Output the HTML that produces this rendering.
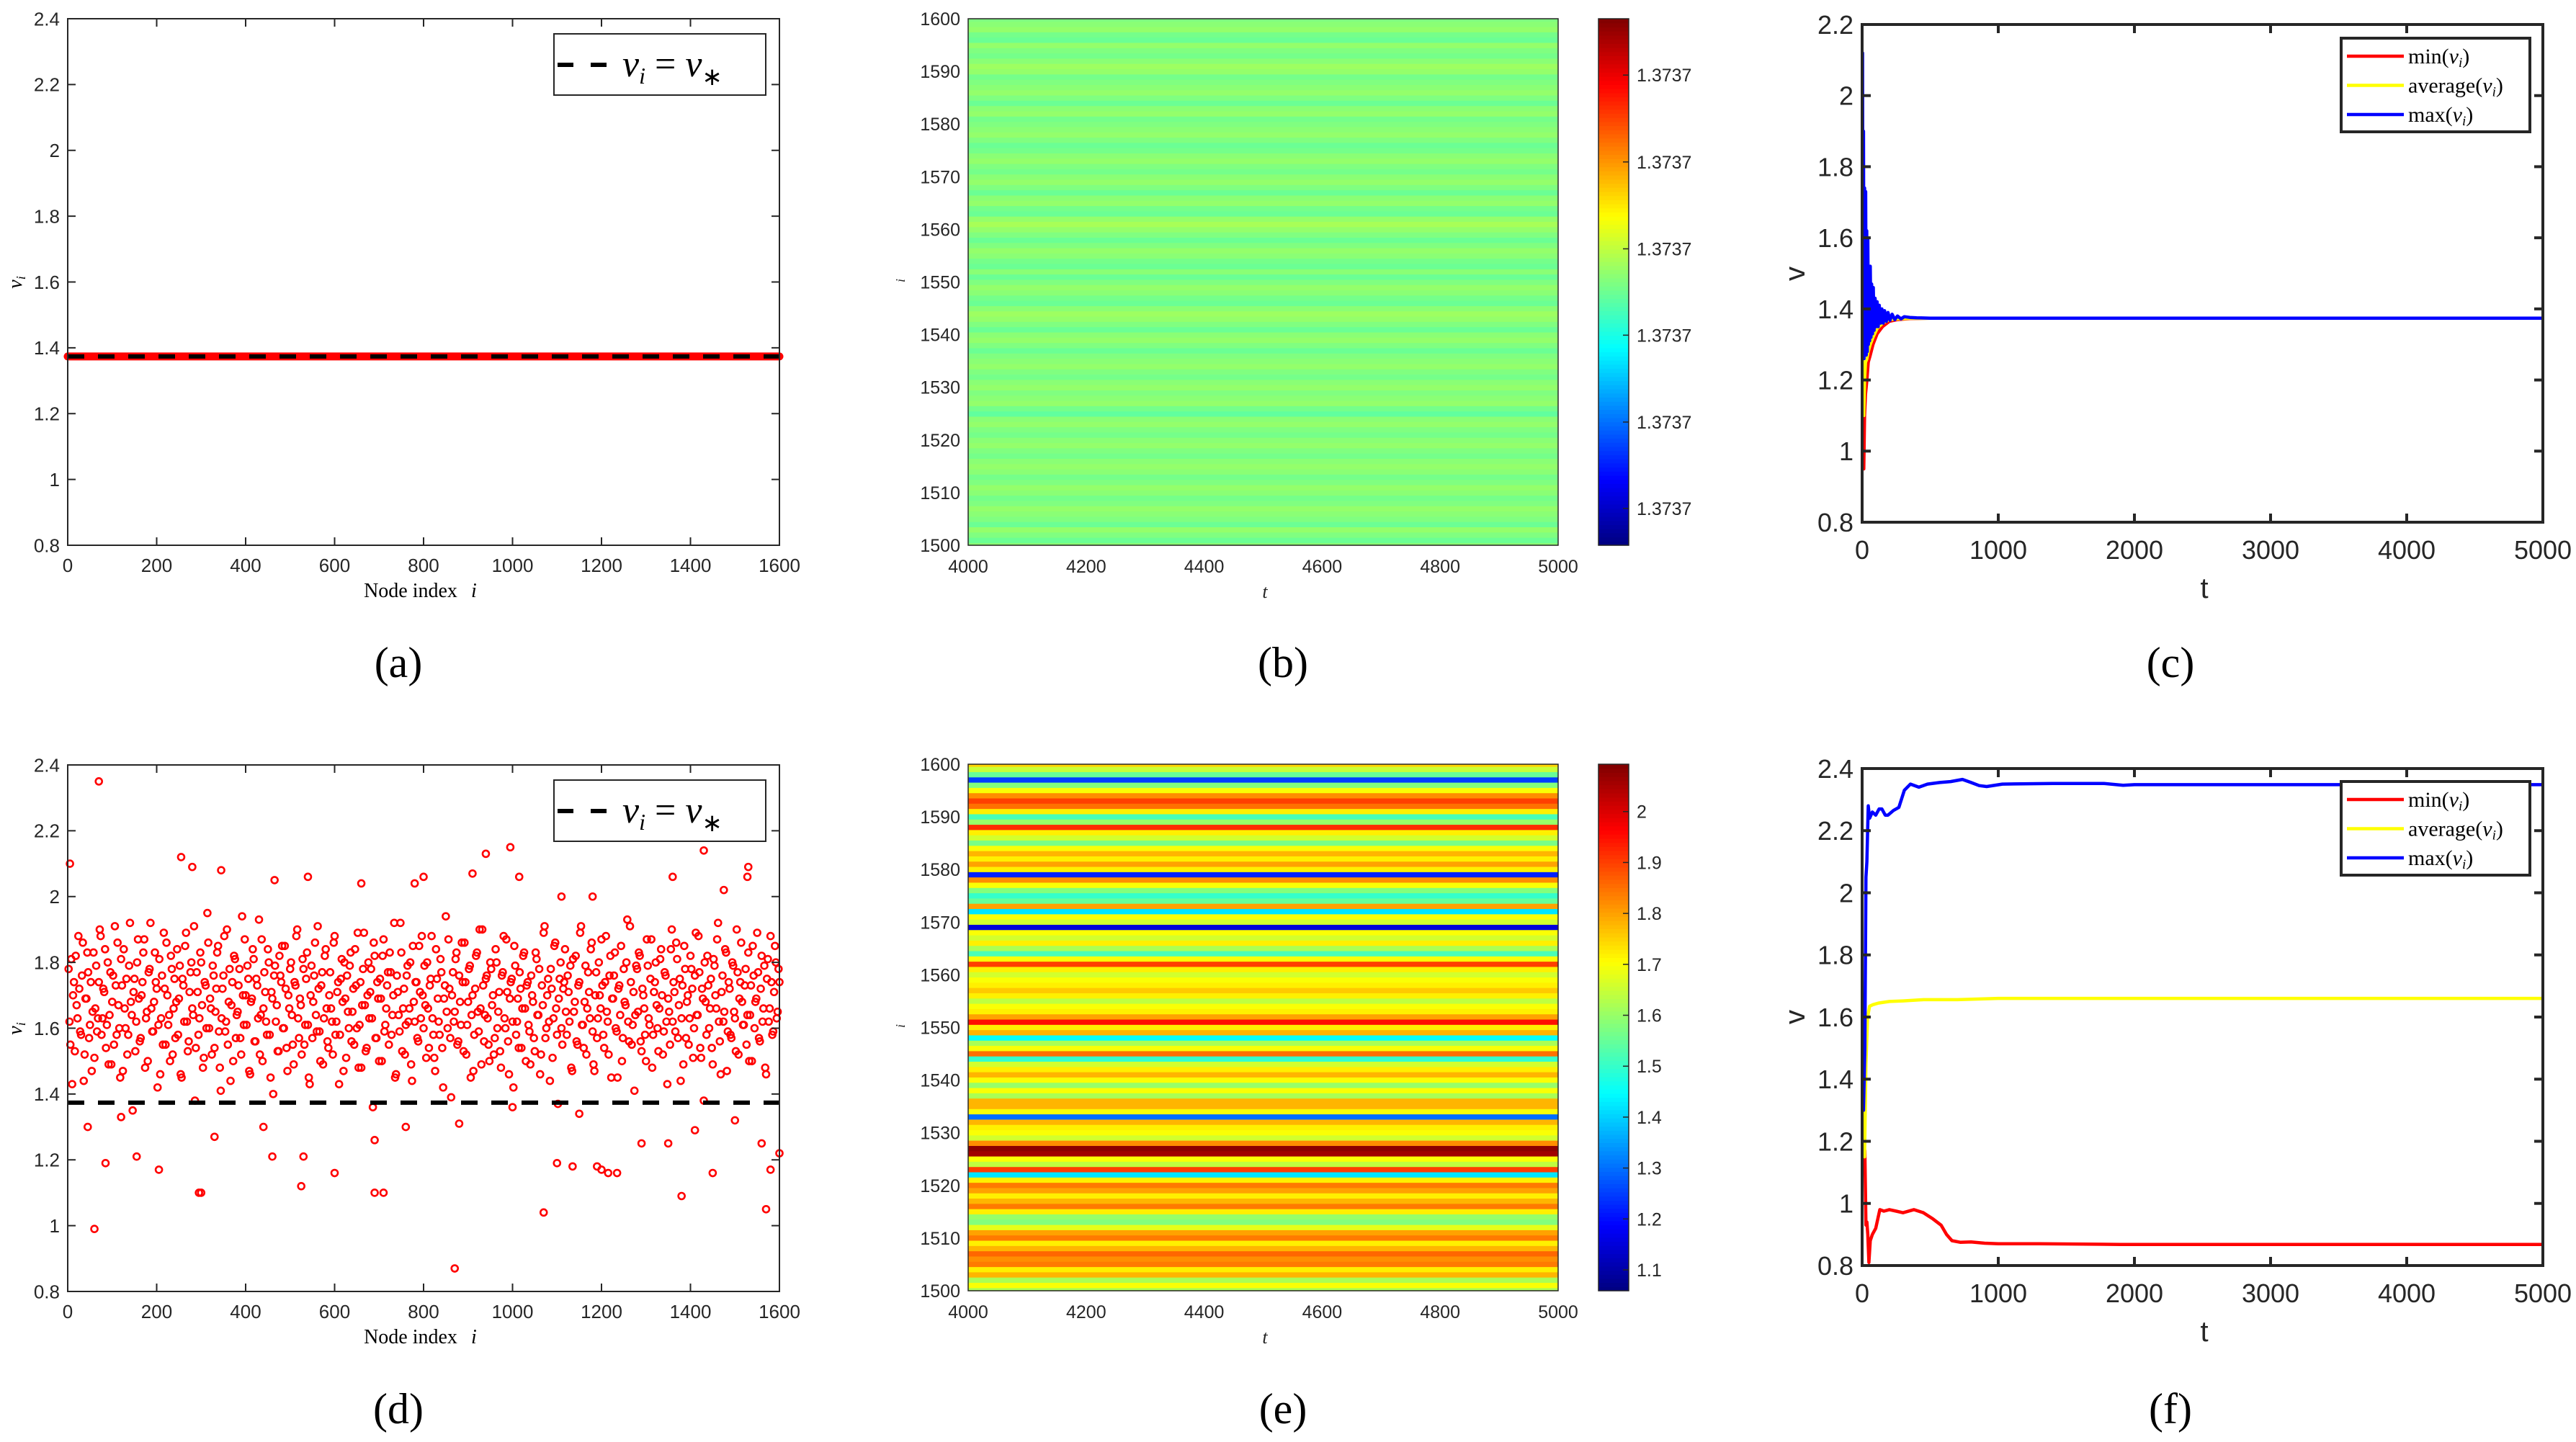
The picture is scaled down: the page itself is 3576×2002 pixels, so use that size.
<!DOCTYPE html>
<html><head><meta charset="utf-8"><title>Six-panel figure</title>
<style>html,body{margin:0;padding:0;background:#fff}svg{display:block}</style>
</head><body>
<svg id="fig" xmlns="http://www.w3.org/2000/svg" width="3576" height="2002" viewBox="0 0 3576 2002"></svg>
<script>
// ---------- data ----------
const xTicksNode = [0,200,400,600,800,1000,1200,1400,1600];
const yTicksA = [0.8,1,1.2,1.4,1.6,1.8,2,2.2,2.4];
const yTickLabelsA = ["0.8","1","1.2","1.4","1.6","1.8","2","2.2","2.4"];
const vStar = 1.3737;
const xTicksHeat = [4000,4200,4400,4600,4800,5000];
const yTicksHeat = [1500,1510,1520,1530,1540,1550,1560,1570,1580,1590,1600];
const cbTicksB = [0.07,0.234,0.399,0.563,0.728,0.893];
const cbLabelsB = ["1.3737","1.3737","1.3737","1.3737","1.3737","1.3737"];
const heatB = [0.51,0.48,0.5,0.52,0.48,0.5,0.51,0.52,0.5,0.49,0.51,0.52,0.5,0.49,0.51,0.52,0.51,0.49,0.5,0.52,0.51,0.49,0.5,0.52,0.51,0.47,0.49,0.52,0.51,0.5,0.52,0.51,0.49,0.5,0.52,0.51,0.5,0.48,0.5,0.52,0.51,0.48,0.5,0.52,0.53,0.51,0.48,0.49,0.51,0.52,0.5,0.48,0.51,0.48,0.49,0.51,0.52,0.5,0.48,0.5,0.52,0.54,0.52,0.48,0.49,0.52,0.51,0.48,0.5,0.52,0.51,0.49,0.5,0.52,0.51,0.49,0.48,0.5,0.52,0.51,0.5,0.49,0.52,0.51,0.48,0.5,0.52,0.51,0.5,0.49,0.52,0.53,0.51,0.49,0.5,0.52,0.48,0.49,0.52,0.51,0.5];
const xTicksT = [0,1000,2000,3000,4000,5000];
const yTicksC = [0.8,1,1.2,1.4,1.6,1.8,2,2.2];
const yTickLabelsC = ["0.8","1","1.2","1.4","1.6","1.8","2","2.2"];
const cBlueT = [0,3,6,10,14,18,22,26,30,34,38,42,46,50,55,60,65,70,76,82,88,95,102,110,118,126,135,145,155,165,178,190,205,220,240,260,285,310,350,400,500,5000];
const cBlueV = [1.45,2.12,1.3,1.9,1.26,1.74,1.27,1.73,1.27,1.62,1.28,1.6,1.3,1.52,1.31,1.52,1.32,1.47,1.33,1.46,1.34,1.43,1.35,1.42,1.35,1.41,1.36,1.40,1.36,1.395,1.365,1.39,1.368,1.385,1.37,1.38,1.372,1.378,1.376,1.375,1.374,1.3737];
const cMinT = [0,5,12,18,25,35,45,60,80,110,150,200,260,350,500,5000];
const cMinV = [1.42,1.0,0.95,1.1,1.16,1.2,1.25,1.27,1.3,1.33,1.35,1.365,1.37,1.373,1.3737,1.3737];
const cAvgV = [1.48,1.2,1.1,1.2,1.25,1.26,1.28,1.3,1.32,1.345,1.36,1.37,1.372,1.3735,1.3737,1.3737];
const scatterVals = [1.78,1.55,1.43,1.74,1.82,1.63,1.72,1.58,1.86,1.52,1.69,1.77,1.61,1.47,1.83,1.66,1.59,1.74,1.88,1.63,
1.71,1.54,1.80,1.64,1.49,1.76,1.91,1.58,1.67,1.45,1.73,1.84,1.60,1.52,1.79,1.68,1.35,1.75,1.62,1.87,
1.56,1.70,1.83,1.48,1.65,1.77,1.92,1.59,1.68,1.74,1.42,1.81,1.63,1.55,1.72,1.86,1.61,1.50,1.78,1.66,
1.57,1.84,1.69,1.46,1.75,1.62,1.89,1.53,1.71,1.80,1.64,1.38,1.77,1.58,1.83,1.67,1.51,1.73,1.95,1.60,
1.66,1.79,1.54,1.72,1.85,1.48,1.63,1.76,1.59,1.90,1.68,1.44,1.74,1.82,1.57,1.65,1.78,1.52,1.70,1.87,
1.61,1.75,1.46,1.69,1.81,1.56,1.73,1.93,1.64,1.50,1.77,1.62,1.84,1.58,1.71,1.40,1.79,1.67,1.53,1.76,
1.85,1.60,1.72,1.47,1.66,1.80,1.55,1.74,1.88,1.63,1.69,1.52,1.78,1.61,1.83,1.45,1.70,1.57,1.76,1.64,
1.91,1.59,1.73,1.49,1.82,1.66,1.54,1.77,1.62,1.86,1.58,1.71,1.43,1.75,1.68,1.80,1.51,1.65,1.79,1.56,
1.72,1.84,1.60,1.48,1.74,1.67,1.89,1.53,1.70,1.63,1.78,1.36,1.82,1.57,1.69,1.75,1.50,1.87,1.61,1.73,
1.55,1.77,1.64,1.92,1.46,1.71,1.59,1.83,1.66,1.52,1.76,1.62,1.80,1.44,1.68,1.74,1.57,1.85,1.63,1.70,
1.79,1.51,1.66,1.73,1.88,1.58,1.47,1.75,1.62,1.81,1.54,1.69,1.94,1.60,1.72,1.39,1.77,1.65,1.83,1.56,
1.68,1.86,1.53,1.74,1.61,1.78,1.45,1.70,1.58,1.82,1.65,1.90,1.49,1.73,1.64,1.76,1.55,1.80,1.67,1.52,
1.84,1.60,1.71,1.48,1.77,1.63,1.87,1.56,1.69,1.75,1.42,1.79,1.62,1.54,1.72,1.66,1.83,1.50,1.74,1.59,
1.76,1.68,1.53,1.81,1.64,1.46,1.73,1.89,1.57,1.70,1.62,1.78,1.51,1.85,1.66,1.37,1.75,1.60,1.72,1.84,
1.58,1.71,1.79,1.47,1.65,1.82,1.55,1.74,1.91,1.61,1.68,1.52,1.77,1.63,1.86,1.49,1.70,1.57,1.80,1.66,
1.73,1.54,1.88,1.62,1.76,1.45,1.69,1.83,1.59,1.72,1.64,1.50,1.78,1.67,1.93,1.56,1.74,1.61,1.41,1.79,
1.65,1.82,1.53,1.70,1.58,1.87,1.63,1.75,1.48,1.71,1.80,1.60,1.66,1.84,1.52,1.77,1.62,1.69,1.55,1.90,
1.74,1.59,1.81,1.67,1.44,1.73,1.85,1.57,1.70,1.63,1.78,1.51,1.76,1.64,1.88,1.54,1.72,1.38,1.68,1.82,
1.60,1.75,1.49,1.79,1.66,1.92,1.56,1.71,1.62,1.84,1.47,1.74,1.58,1.80,1.65,1.53,1.77,1.69,1.86,1.61,
1.73,1.55,1.83,1.64,1.50,1.76,1.68,1.89,1.57,1.72,1.62,1.79,1.46,1.81,1.66,1.74,1.59,1.85,1.63,1.78];
const scatterVals2 = [1.62,1.81,1.70,1.53,1.67,1.88,1.59,1.76,1.44,1.69,1.83,1.57,1.74,1.65,1.51,1.79,1.63,1.90,1.58,1.72,
1.84,1.61,1.49,1.77,1.68,1.55,1.73,1.86,1.60,1.81,1.47,1.66,1.75,1.58,1.92,1.64,1.71,1.53,1.80,1.69,
1.57,1.74,1.87,1.63,1.50,1.78,1.66,1.59,1.83,1.72,1.61,1.46,1.76,1.89,1.55,1.70,1.64,1.82,1.52,1.75,
1.68,1.58,1.79,1.45,1.73,1.85,1.62,1.56,1.77,1.66,1.91,1.54,1.71,1.63,1.80,1.48,1.74,1.60,1.86,1.69,
1.52,1.76,1.65,1.83,1.59,1.41,1.72,1.88,1.62,1.55,1.78,1.67,1.50,1.81,1.64,1.73,1.57,1.94,1.61,1.70,
1.79,1.47,1.68,1.84,1.56,1.75,1.63,1.52,1.87,1.66,1.71,1.58,1.80,1.45,1.69,1.76,1.62,1.53,1.82,1.74,
1.60,1.85,1.54,1.70,1.78,1.64,1.49,1.73,1.90,1.57,1.67,1.81,1.55,1.75,1.61,1.43,1.79,1.68,1.86,1.59,
1.72,1.50,1.77,1.63,1.84,1.56,1.70,1.66,1.52,1.88,1.62,1.74,1.58,1.81,1.47,1.69,1.76,1.60,1.83,1.65,
1.55,1.73,1.89,1.61,1.48,1.78,1.67,1.54,1.80,1.71,1.63,1.86,1.57,1.74,1.50,1.69,1.82,1.59,1.66,1.77,
1.83,1.58,1.70,1.45,1.76,1.64,1.92,1.53,1.72,1.61,1.79,1.66,1.49,1.85,1.62,1.74,1.56,1.71,1.88,1.60,
1.67,1.80,1.54,1.75,1.63,1.51,1.84,1.69,1.58,1.77,1.42,1.73,1.65,1.87,1.57,1.70,1.62,1.81,1.55,1.76,
1.61,1.74,1.86,1.52,1.68,1.79,1.64,1.47,1.72,1.83,1.59,1.66,1.90,1.56,1.75,1.63,1.50,1.78,1.70,1.57,
1.80,1.65,1.53,1.76,1.88,1.60,1.71,1.46,1.74,1.62,1.85,1.58,1.69,1.77,1.54,1.82,1.66,1.73,1.61,1.49,
1.70,1.57,1.83,1.64,1.78,1.52,1.67,1.91,1.60,1.75,1.44,1.72,1.63,1.86,1.58,1.69,1.80,1.55,1.74,1.65,
1.76,1.62,1.48,1.81,1.68,1.56,1.73,1.89,1.61,1.54,1.79,1.66,1.71,1.84,1.59,1.47,1.77,1.63,1.70,1.87,
1.58,1.74,1.65,1.52,1.82,1.69,1.76,1.60,1.45,1.73,1.85,1.57,1.68,1.80,1.62,1.91,1.55,1.71,1.64,1.78,
1.83,1.56,1.72,1.66,1.50,1.79,1.61,1.87,1.58,1.74,1.67,1.53,1.81,1.70,1.59,1.76,1.43,1.65,1.84,1.62,
1.71,1.86,1.57,1.75,1.63,1.49,1.78,1.68,1.55,1.82,1.72,1.60,1.89,1.64,1.77,1.51,1.69,1.80,1.58,1.73,
1.66,1.54,1.81,1.70,1.87,1.62,1.46,1.76,1.65,1.83,1.59,1.72,1.57,1.79,1.63,1.90,1.52,1.74,1.68,1.61,
1.78,1.64,1.50,1.73,1.85,1.60,1.69,1.77,1.56,1.82,1.66,1.48,1.75,1.62,1.88,1.58,1.71,1.80,1.65,1.74];
const outlierIdx = [70,5,60,870,995,1430,940,255,1070,1570,295,300,690,710,1380,525,85,205,600,1100,1135,1190,1200,1215,1235,1450,1580,1600,530,155,460,1530,1528,910,1015,800,540,280,345,465,1360,1475,1180,1110,660,780,45,120,330,440,690,760,880,1000,1150,1290,1350,1410,1500,1560];
const outlierVal = [2.35,2.1,0.99,0.87,2.15,2.14,2.13,2.12,1.04,1.05,1.1,1.1,1.1,1.1,1.09,1.12,1.19,1.17,1.16,1.19,1.18,1.18,1.17,1.16,1.16,1.16,1.17,1.22,1.21,1.21,1.21,2.09,2.06,2.07,2.06,2.06,2.06,2.09,2.08,2.05,2.06,2.02,2.0,2.0,2.04,2.04,1.3,1.33,1.27,1.3,1.26,1.3,1.31,1.36,1.34,1.25,1.25,1.29,1.32,1.25];
const heatE = [1.75,1.65,1.55,1.25,1.58,1.7,1.82,1.9,1.85,1.72,1.52,1.6,1.92,1.72,1.66,1.57,1.7,1.78,1.72,1.8,1.72,1.22,1.82,1.7,1.58,1.5,1.55,1.8,1.42,1.7,1.66,1.15,1.7,1.66,1.72,1.62,1.52,1.7,1.9,1.72,1.66,1.7,1.72,1.76,1.72,1.64,1.7,1.72,1.8,1.95,1.72,1.78,1.45,1.62,1.7,1.85,1.5,1.66,1.72,1.78,1.7,1.6,1.7,1.62,1.78,1.78,1.7,1.3,1.78,1.72,1.7,1.66,1.82,2.08,2.06,1.7,1.64,1.9,1.42,1.72,1.84,1.8,1.72,1.78,1.84,1.72,1.6,1.58,1.68,1.8,1.84,1.72,1.78,1.86,1.82,1.84,1.72,1.78,1.62,1.7,1.62];
const cbTicksE = [1.1,1.2,1.3,1.4,1.5,1.6,1.7,1.8,1.9,2];
const cbLabelsE = ["1.1","1.2","1.3","1.4","1.5","1.6","1.7","1.8","1.9","2"];
const yTicksF = [0.8,1,1.2,1.4,1.6,1.8,2,2.2,2.4];
const yTickLabelsF = ["0.8","1","1.2","1.4","1.6","1.8","2","2.2","2.4"];
const fBlueT = [0,10,20,28,35,45,55,75,100,125,145,170,190,230,270,310,355,417,480,570,650,737,800,860,915,1030,1400,1775,1917,2000,5000];
const fBlueV = [1.48,1.3,1.5,2.05,2.1,2.28,2.24,2.26,2.25,2.27,2.27,2.25,2.25,2.265,2.275,2.33,2.35,2.34,2.35,2.355,2.358,2.365,2.355,2.345,2.342,2.35,2.352,2.352,2.346,2.348,2.348];
const fAvgT = [0,10,18,28,40,55,80,120,200,300,450,700,1000,5000];
const fAvgV = [1.48,1.2,1.15,1.45,1.6,1.635,1.64,1.645,1.65,1.652,1.656,1.656,1.66,1.66];
const fMinT = [0,10,20,28,35,42,50,60,75,100,130,160,200,250,300,380,450,520,580,620,660,720,800,900,1000,1300,1900,5000];
const fMinV = [1.42,1.15,1.17,0.93,0.94,0.9,0.81,0.88,0.9,0.92,0.98,0.975,0.98,0.975,0.97,0.98,0.97,0.95,0.93,0.9,0.88,0.875,0.876,0.872,0.87,0.87,0.868,0.868];

// ---------- helpers ----------
const NS = "http://www.w3.org/2000/svg";
const svg = document.getElementById("fig");
function mk(tag, parent, name) {
  const e = document.createElementNS(NS, tag);
  
  
  parent.appendChild(e);
  return e;
}
function set(e, o) { for (const k in o) e.setAttribute(k, o[k]); return e; }
function txt(parent, name, s, x, y, size, opts) {
  const t = mk('text', parent, name);
  set(t, {x: x, y: y, 'font-size': size, fill: '#262626', 'font-family': '"Liberation Sans", sans-serif'});
  if (opts) set(t, opts);
  t.textContent = s;
  return t;
}
function scale(d0, d1, r0, r1) { return v => r0 + (v - d0) / (d1 - d0) * (r1 - r0); }
function jet(v) {
  v = Math.max(0, Math.min(1, v));
  const c = x => Math.round(255 * Math.max(0, Math.min(1, 1.5 - Math.abs(x))));
  return `rgb(${c(4*v-3)},${c(4*v-2)},${c(4*v-1)})`;
}
function drawAxes(g, box, sx, sy, xt, xl, yt, yl, o) {
  const fw = o.fw, tl = o.tl, fs = o.fs;
  for (let i = 0; i < xt.length; i++) {
    const x = sx(xt[i]);
    const a = mk('line', g, 'x-tick'); set(a, {x1:x, x2:x, y1:box.b, y2:box.b - tl, stroke:'#262626', 'stroke-width':fw});
    const b = mk('line', g, 'x-tick-top'); set(b, {x1:x, x2:x, y1:box.t, y2:box.t + tl, stroke:'#262626', 'stroke-width':fw});
    txt(g, 'x-tick-label', xl[i], x, box.b + o.xdy, fs, {'text-anchor':'middle'});
  }
  for (let i = 0; i < yt.length; i++) {
    const y = sy(yt[i]);
    const a = mk('line', g, 'y-tick'); set(a, {x1:box.l, x2:box.l + tl, y1:y, y2:y, stroke:'#262626', 'stroke-width':fw});
    if (!o.noRightTicks) { const b = mk('line', g, 'y-tick-right'); set(b, {x1:box.r, x2:box.r - tl, y1:y, y2:y, stroke:'#262626', 'stroke-width':fw}); }
    txt(g, 'y-tick-label', yl[i], box.l - o.ydx, y + fs * 0.36, fs, {'text-anchor':'end'});
  }
  const f = mk('rect', g, 'axes-frame');
  set(f, {x:box.l, y:box.t, width:box.r - box.l, height:box.b - box.t, fill:'none', stroke:'#262626', 'stroke-width':fw});
}
function polyline(g, name, xs, ys, sx, sy, color, w) {
  const p = mk('polyline', g, name);
  set(p, {points: xs.map((x, i) => sx(x).toFixed(1) + ',' + sy(ys[i]).toFixed(1)).join(' '), fill:'none', stroke:color, 'stroke-width':w, 'stroke-linejoin':'round'});
  return p;
}
function caption(s, x, y) {
  const t = txt(svg, 'panel-caption', s, x, y, 60, {'text-anchor':'middle', 'font-family':'"Liberation Serif", serif', fill:'#000'});
  
}

// ---------- panels (a) & (d) ----------
function marker(plot, sx, sy, i, v) {
  const c = mk('circle', plot, 'node-value-marker');
  set(c, {cx:sx(i), cy:sy(v), r:4.5, fill:'none', stroke:'#ff0000', 'stroke-width':2.6});
}
function nodePanel(offY, scatter, letter) {
  const g = mk('g', svg, 'panel-' + letter);
  const box = {l:94, r:1082, t:26 + offY, b:757 + offY};
  const sx = scale(0, 1600, box.l, box.r), sy = scale(0.8, 2.4, box.b, box.t);
  const clip = mk('clipPath', g, 'plot-clip'); clip.setAttribute('id', 'clip' + letter);
  const cr = mk('rect', clip, 'clip-rect'); set(cr, {x:box.l - 6, y:box.t, width:box.r - box.l + 12, height:box.b - box.t});
  const plot = mk('g', g, 'plot-area'); plot.setAttribute('clip-path', `url(#clip${letter})`);
  if (!scatter) {
    const red = mk('line', plot, 'node-values-line');
    set(red, {x1:sx(0), x2:sx(1600), y1:sy(vStar), y2:sy(vStar), stroke:'#ff0000', 'stroke-width':11, 'stroke-linecap':'round'});
  } else {
    for (let k = 0; k < scatterVals.length; k++) marker(plot, sx, sy, k * 4 + 2, scatterVals[k]);
    for (let k = 0; k < scatterVals2.length; k++) marker(plot, sx, sy, k * 4 + 4, scatterVals2[k]);
    for (let k = 0; k < outlierIdx.length; k++) marker(plot, sx, sy, outlierIdx[k], outlierVal[k]);
  }
  const dl = mk('line', plot, 'equilibrium-dashed-line');
  set(dl, {x1:sx(0), x2:sx(1600), y1:sy(vStar), y2:sy(vStar), stroke:'#000', 'stroke-width':6, 'stroke-dasharray':'23 19'});
  drawAxes(g, box, sx, sy, xTicksNode, xTicksNode.map(String), yTicksA, yTickLabelsA, {fw:2, tl:11, fs:26, xdy:37, ydx:11});
  const lg = mk('g', g, 'legend');
  const lb = mk('rect', lg, 'legend-box'); set(lb, {x:769, y:47 + offY, width:294, height:85, fill:'#fff', stroke:'#262626', 'stroke-width':2});
  const ll = mk('line', lg, 'legend-line'); set(ll, {x1:774, x2:842, y1:90 + offY, y2:90 + offY, stroke:'#000', 'stroke-width':6, 'stroke-dasharray':'22 24'});
  const lt = txt(lg, 'legend-label', '', 864, 106 + offY, 52, {'font-family':'"Liberation Serif", serif', 'font-style':'italic', fill:'#000'});
  lt.innerHTML = 'v<tspan font-size="32" dy="10">i</tspan><tspan dy="-10" font-style="normal"> = </tspan>v<tspan font-size="34" dy="12" font-style="normal">∗</tspan>';
  txt(g, 'x-axis-title', 'Node index ', 570, 829 + offY, 28, {'text-anchor':'middle', 'font-family':'"Liberation Serif", serif', fill:'#000'});
  txt(g, 'x-axis-title-var', 'i', 654, 829 + offY, 28, {'font-family':'"Liberation Serif", serif', 'font-style':'italic', fill:'#000'});
  const yl = txt(g, 'y-axis-title', '', 30, 392 + offY, 28, {'font-family':'"Liberation Serif", serif', 'font-style':'italic', fill:'#000', transform:`rotate(-90 30 ${392 + offY})`, 'text-anchor':'middle'});
  yl.innerHTML = 'v<tspan font-size="18" dy="5">i</tspan>';
}
nodePanel(0, false, 'a');
nodePanel(1036, true, 'd');

// ---------- panels (b) & (e) ----------
function heatPanel(offY, vals, vmin, vmax, cbT, cbL, letter, startIdx) {
  const g = mk('g', svg, 'panel-' + letter);
  const box = {l:1344, r:2163, t:26 + offY, b:757 + offY};
  const sx = scale(4000, 5000, box.l, box.r), sy = scale(1500, 1600, box.b, box.t);
  const hm = mk('g', g, 'heatmap');
  for (let k = 0; k < vals.length; k++) {
    const i = startIdx(k);
    const y0 = Math.max(box.t, sy(i + 0.5)), y1 = Math.min(box.b, sy(i - 0.5));
    const r = mk('rect', hm, 'heatmap-row');
    set(r, {x:box.l, y:y0.toFixed(2), width:box.r - box.l, height:(y1 - y0 + 0.6).toFixed(2), fill:jet((vals[k] - vmin) / (vmax - vmin))});
  }
  drawAxes(g, box, sx, sy, xTicksHeat, xTicksHeat.map(String), yTicksHeat, yTicksHeat.map(String), {fw:1.5, tl:0, fs:25, xdy:38, ydx:11, noRightTicks:true});
  const cb = {l:2219, r:2261, t:box.t, b:box.b};
  const cg = mk('g', g, 'colorbar');
  const N = 128;
  for (let k = 0; k < N; k++) {
    const r = mk('rect', cg, 'colorbar-segment');
    const h = (cb.b - cb.t) / N;
    set(r, {x:cb.l, y:(cb.b - (k + 1) * h).toFixed(2), width:cb.r - cb.l, height:(h + 0.6).toFixed(2), fill:jet((k + 0.5) / N)});
  }
  const cbs = scale(vmin, vmax, cb.b, cb.t);
  for (let k = 0; k < cbT.length; k++) {
    const y = cbs(cbT[k]);
    const t1 = mk('line', cg, 'colorbar-tick'); set(t1, {x1:cb.r, x2:cb.r - 8, y1:y, y2:y, stroke:'#262626', 'stroke-width':1.5});
    txt(cg, 'colorbar-tick-label', cbL[k], cb.r + 11, y + 9, 25);
  }
  const cf = mk('rect', cg, 'colorbar-frame'); set(cf, {x:cb.l, y:cb.t, width:cb.r - cb.l, height:cb.b - cb.t, fill:'none', stroke:'#262626', 'stroke-width':1.5});
  txt(g, 'x-axis-title', 't', 1756, 830 + offY, 26, {'font-family':'"Liberation Serif", serif', 'font-style':'italic', fill:'#262626', 'text-anchor':'middle'});
  txt(g, 'y-axis-title', 'i', 1256, 392 + offY, 18, {'font-family':'"Liberation Serif", serif', 'font-style':'italic', fill:'#262626', transform:`rotate(-90 1256 ${392 + offY})`});
}
heatPanel(0, heatB, 0, 1, cbTicksB, cbLabelsB, 'b', k => 1500 + k);
heatPanel(1035, heatE, 1.059, 2.093, cbTicksE, cbLabelsE, 'e', k => 1600 - k);

// ---------- panels (c) & (f) ----------
function timePanel(offY, ymin, ymax, yt, yl, series, letter, box) {
  const g = mk('g', svg, 'panel-' + letter);
  const sx = scale(0, 5000, box.l, box.r), sy = scale(ymin, ymax, box.b, box.t);
  const clip = mk('clipPath', g, 'plot-clip'); clip.setAttribute('id', 'clip' + letter);
  const cr = mk('rect', clip, 'clip-rect'); set(cr, {x:box.l, y:box.t, width:box.r - box.l, height:box.b - box.t});
  const plot = mk('g', g, 'plot-area'); plot.setAttribute('clip-path', `url(#clip${letter})`);
  for (const s of series) polyline(plot, s.name, s.t, s.v, sx, sy, s.c, 4.5);
  drawAxes(g, box, sx, sy, xTicksT, xTicksT.map(String), yt, yl, {fw:4, tl:12, fs:36, xdy:51, ydx:12});
  const lg = mk('g', g, 'legend');
  const lb = mk('rect', lg, 'legend-box'); set(lb, {x:3250, y:53 + offY, width:262, height:130, fill:'#fff', stroke:'#262626', 'stroke-width':4});
  const names = [['min', '#ff0000'], ['average', '#ffff00'], ['max', '#0000ff']];
  for (let k = 0; k < 3; k++) {
    const y = 78 + k * 40.5 + offY;
    const l = mk('line', lg, 'legend-line-' + names[k][0]); set(l, {x1:3258, x2:3337, y1:y, y2:y, stroke:names[k][1], 'stroke-width':4.5});
    const t = txt(lg, 'legend-label-' + names[k][0], '', 3343, y + 10, 30, {'font-family':'"Liberation Serif", serif', fill:'#000'});
    t.innerHTML = names[k][0] + '(<tspan font-style="italic">v</tspan><tspan font-style="italic" font-size="19" dy="5">i</tspan><tspan dy="-5">)</tspan>';
  }
  txt(g, 'x-axis-title', 't', 3060, 830 + offY, 40, {'text-anchor':'middle'});
  txt(g, 'y-axis-title', 'v', 2505, 380 + offY, 40, {'text-anchor':'middle', transform:`rotate(-90 2505 ${380 + offY})`});
}
timePanel(0, 0.8, 2.2, yTicksC, yTickLabelsC, [
  {name:'min-series', t:cMinT, v:cMinV, c:'#ff0000'},
  {name:'average-series', t:cMinT, v:cAvgV, c:'#ffff00'},
  {name:'max-series', t:cBlueT, v:cBlueV, c:'#0000ff'}], 'c', {l:2585, r:3530, t:34, b:725});
timePanel(1032, 0.8, 2.4, yTicksF, yTickLabelsF, [
  {name:'min-series', t:fMinT, v:fMinV, c:'#ff0000'},
  {name:'average-series', t:fAvgT, v:fAvgV, c:'#ffff00'},
  {name:'max-series', t:fBlueT, v:fBlueV, c:'#0000ff'}], 'f', {l:2585, r:3530, t:1067, b:1757});

caption('(a)', 553, 940);
caption('(b)', 1781, 940);
caption('(c)', 3013, 940);
caption('(d)', 553, 1976);
caption('(e)', 1781, 1976);
caption('(f)', 3013, 1976);
</script>
</body></html>
